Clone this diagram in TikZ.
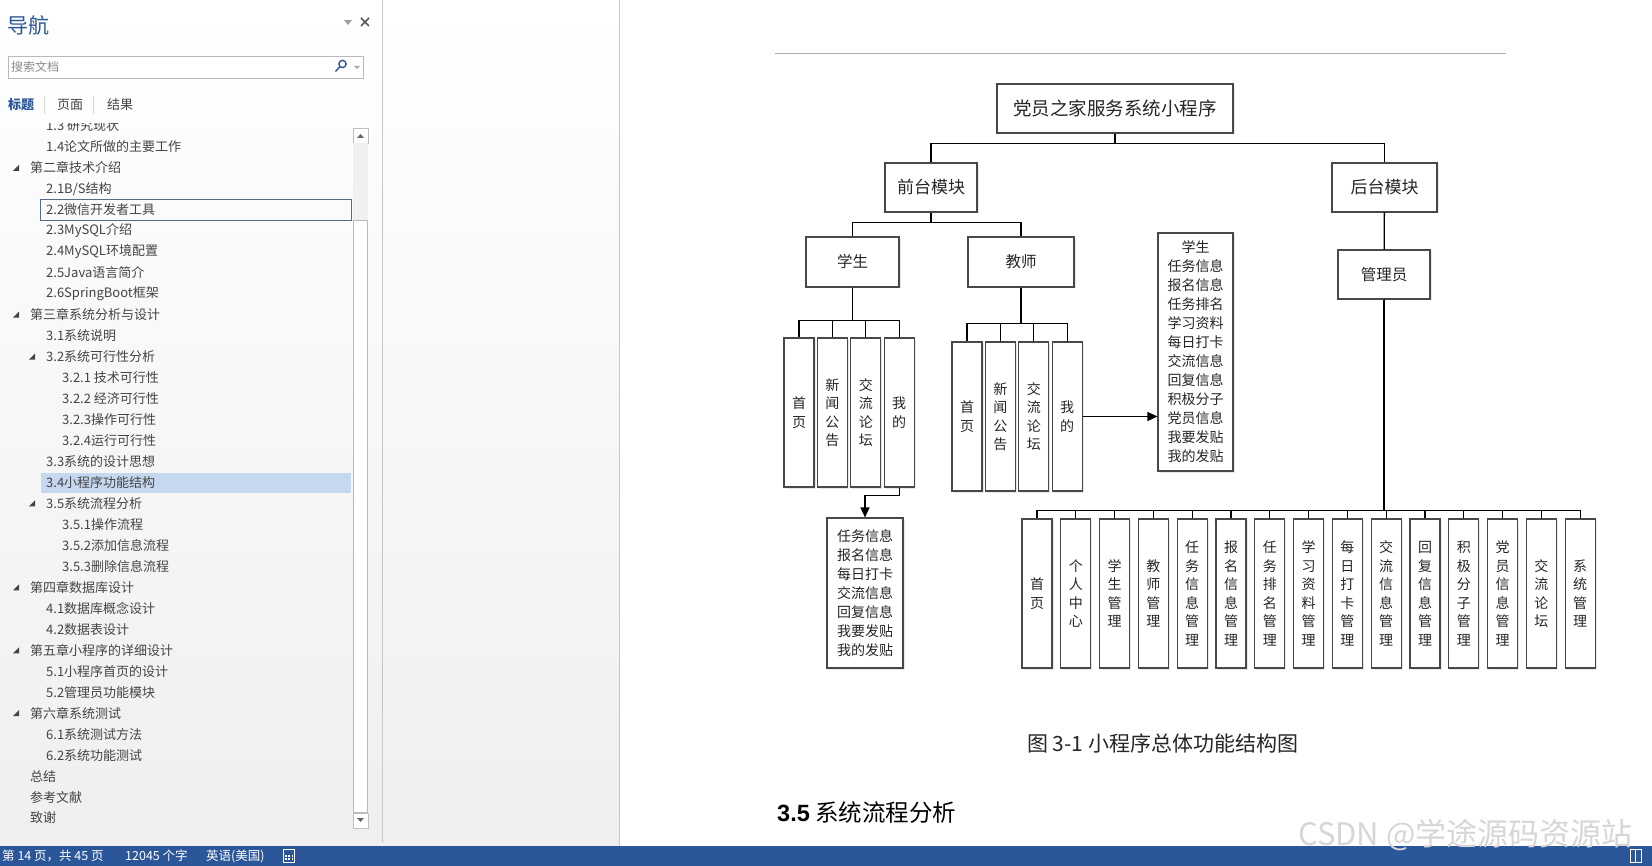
\documentclass[tikz,border=0pt]{standalone}
\usepackage{fontspec}
\setmainfont{Noto Sans CJK SC}
\newfontfamily\headlatin{Liberation Sans}
\usetikzlibrary{arrows.meta,positioning,shadows}
\definecolor{wordblue}{RGB}{43,87,154}
\definecolor{navtext}{RGB}{68,68,68}
\definecolor{navbg}{RGB}{239,239,239}
\definecolor{selfill}{RGB}{197,216,240}
\definecolor{selline}{RGB}{84,110,138}
\definecolor{boxline}{RGB}{72,72,72}
\definecolor{paneline}{RGB}{200,200,200}

\begin{document}
\begin{tikzpicture}[x=1pt,y=-1pt,
  navitem/.style={anchor=west,inner sep=0pt,text=navtext,font=\fontsize{13}{15}\selectfont},
  bartext/.style={anchor=west,inner sep=0pt,text=white,font=\fontsize{12.5}{14}\selectfont},
  orgbox/.style={draw=boxline,line width=1.15pt,fill=white,inner sep=0pt,align=center,text=black!85,
    drop shadow={shadow xshift=1.5pt,shadow yshift=-1.5pt,opacity=0.18},font=\fontsize{17}{20}\selectfont},
  leafbox/.style={orgbox,minimum width=30pt,minimum height=149pt,font=\fontsize{14}{18.5}\selectfont},
  listbox/.style={orgbox,font=\fontsize{14}{19}\selectfont},
  link/.style={line width=1.3pt,draw=black},
  arr/.style={link,-{Triangle[length=10pt,width=9pt]}}
]
\useasboundingbox (0,0) rectangle (1652,866);

% window backgrounds
\shade[top color=white,bottom color=navbg] (0,0) rectangle (382,846);
\shade[top color=white,bottom color=navbg] (383,0) rectangle (619,846);
\fill[white] (620,0) rectangle (1652,846);
\draw[paneline] (382.5,0) -- (382.5,843);
\draw[gray!45] (619.5,0) -- (619.5,846);

% navigation pane head
\node[anchor=west,inner sep=0pt,text=wordblue,font=\fontsize{21}{24}\selectfont] (navtitle) at (7,25) {导航};
\fill[gray!75] (344,20) -- (352,20) -- (348,25) -- cycle;
\draw[gray!70!black,line width=1.6pt] (361,18) -- (369,26) (361,26) -- (369,18);
\node[draw=gray!55,fill=white,minimum width=355pt,minimum height=22pt,inner sep=0pt,anchor=north west] (search) at (8,56) {};
\node[navitem,text=gray!90,font=\fontsize{12}{14}\selectfont] (searchtxt) at (11,67) {搜索文档};
\draw[wordblue,line width=1.4pt] (342.5,64) circle (3.6pt) (339.8,66.8) -- (335.5,71.5);
\fill[gray!70] (354,66) -- (360,66) -- (357,69) -- cycle;

% tabs
\node[navitem,text=wordblue,font=\bfseries\fontsize{13}{15}\selectfont] (tabhead) at (8,105) {标题};
\node[navitem] (tabpage) at (57,105) {页面};
\node[navitem] (tabres) at (107,105) {结果};
\draw[gray!30] (44,96) -- (44,114) (93,96) -- (93,114);

% scrollbar
\draw[gray!50,fill=white] (353,128) rectangle (368,143);
\fill[gray!80!black] (357,138) -- (364,138) -- (360.5,134) -- cycle;
\fill[gray!12] (353,143) rectangle (368,220);
\draw[gray!55,fill=white] (353.5,220) rectangle (367.5,812);
\draw[gray!50,fill=white] (353,813) rectangle (368,828);
\fill[gray!80!black] (357,818) -- (364,818) -- (360.5,822) -- cycle;

% heading list
\fill[selfill] (41,473) rectangle (351,493);
\draw[selline] (40.5,199.5) rectangle (351.5,220.5);
\begin{scope}
\clip (0,124) rectangle (352,846);
\foreach \lv/\tri/\txt [count=\i from 0] in {
  2/0/{1.3 研究现状},2/0/{1.4论文所做的主要工作},1/1/{第二章技术介绍},2/0/{2.1B/S结构},
  2/0/{2.2微信开发者工具},2/0/{2.3MySQL介绍},2/0/{2.4MySQL环境配置},2/0/{2.5Java语言简介},
  2/0/{2.6SpringBoot框架},1/1/{第三章系统分析与设计},2/0/{3.1系统说明},2/1/{3.2系统可行性分析},
  3/0/{3.2.1 技术可行性},3/0/{3.2.2 经济可行性},3/0/{3.2.3操作可行性},3/0/{3.2.4运行可行性},
  2/0/{3.3系统的设计思想},2/0/{3.4小程序功能结构},2/1/{3.5系统流程分析},3/0/{3.5.1操作流程},
  3/0/{3.5.2添加信息流程},3/0/{3.5.3删除信息流程},1/1/{第四章数据库设计},2/0/{4.1数据库概念设计},
  2/0/{4.2数据表设计},1/1/{第五章小程序的详细设计},2/0/{5.1小程序首页的设计},2/0/{5.2管理员功能模块},
  1/1/{第六章系统测试},2/0/{6.1系统测试方法},2/0/{6.2系统功能测试},1/0/{总结},
  1/0/{参考文献},1/0/{致谢}}
{
  \node[navitem] (nav\i) at ({14+16*\lv},{126+20.97*\i}) {\txt};
  \ifnum\tri=1
    \fill[navtext] ({16*\lv-3},{129+20.97*\i}) -- ++(6,0) -- ++(0,-6) -- cycle;
  \fi
}
\end{scope}

% status bar
\fill[wordblue] (0,846) rectangle (1652,866);
\node[bartext] (pageno) at (2,856) {第 14 页，共 45 页};
\node[bartext] (words) at (125,856) {12045 个字};
\node[bartext] (lang) at (206,856) {英语(美国)};
\draw[white,line width=1pt] (283,849.5) rectangle (294,862);
\foreach \u in {0,1,2} \foreach \v in {0,1}
  \fill[white] ({285+3.3*\u},{855+3*\v}) rectangle ++(1.8,1.6);
\draw[white,line width=1pt] (1630,849.5) rectangle (1641,862) (1635.5,849.5) -- (1635.5,862);

% page
\draw[gray!65,line width=1pt] (775,54) -- (1506,54);

\node[orgbox,minimum width=236pt,minimum height=49pt,font=\fontsize{18.5}{22}\selectfont] (root) at (1115,108.5) {党员之家服务系统小程序};
\node[orgbox,minimum width=92pt,minimum height=49pt] (front) at (931,187.5) {前台模块};
\node[orgbox,minimum width=105pt,minimum height=49pt] (back) at (1384.5,187.5) {后台模块};
\node[orgbox,minimum width=93pt,minimum height=50pt,font=\fontsize{15.5}{18}\selectfont] (stu) at (852.5,262) {学生};
\node[orgbox,minimum width=106pt,minimum height=50pt,font=\fontsize{15.5}{18}\selectfont] (tea) at (1021,262) {教师};
\node[orgbox,minimum width=92pt,minimum height=49pt,font=\fontsize{15.5}{18}\selectfont] (adm) at (1384,274.5) {管理员};

\foreach \txt [count=\k from 0] in {{首\\页},{新\\闻\\公\\告},{交\\流\\论\\坛},{我\\的}}
  \node[leafbox] (s\k) at ({799+33.4*\k},412.5) {\txt};
\foreach \txt [count=\k from 0] in {{首\\页},{新\\闻\\公\\告},{交\\流\\论\\坛},{我\\的}}
  \node[leafbox] (t\k) at ({967+33.4*\k},416.5) {\txt};
\foreach \txt [count=\k] in {{首\\页},{个\\人\\中\\心},{学\\生\\管\\理},{教\\师\\管\\理},
    {任\\务\\信\\息\\管\\理},{报\\名\\信\\息\\管\\理},{任\\务\\排\\名\\管\\理},{学\\习\\资\\料\\管\\理},
    {每\\日\\打\\卡\\管\\理},{交\\流\\信\\息\\管\\理},{回\\复\\信\\息\\管\\理},{积\\极\\分\\子\\管\\理},
    {党\\员\\信\\息\\管\\理},{交\\流\\论\\坛},{系\\统\\管\\理}}
  \node[leafbox] (a\k) at ({998.2+38.8*\k},593.5) {\txt};

\node[listbox,minimum width=76pt,minimum height=150pt] (stuinfo) at (865,593) {任务信息\\报名信息\\每日打卡\\交流信息\\回复信息\\我要发贴\\我的发贴};
\node[listbox,minimum width=75pt,minimum height=238pt] (teainfo) at (1195.5,352) {学生\\任务信息\\报名信息\\任务排名\\学习资料\\每日打卡\\交流信息\\回复信息\\积极分子\\党员信息\\我要发贴\\我的发贴};

\draw[link] (root.south) -- ++(0,10) -| (front.north);
\draw[link] (root.south) -- ++(0,10) -| (back.north);
\draw[link] (front.south) -- ++(0,10) -| (stu.north);
\draw[link] (front.south) -- ++(0,10) -| (tea.north);
\foreach \k in {0,...,3} \draw[link] (stu.south) -- ++(0,33) -| (s\k.north);
\foreach \k in {0,...,3} \draw[link] (tea.south) -- ++(0,36) -| (t\k.north);
\draw[link] (back) -- (adm);
\foreach \k in {1,...,15} \draw[link] (adm.south) -- ++(0,211) -| (a\k.north);
\draw[arr] (s3.south) -- ++(0,8) -| (stuinfo.north);
\draw[arr] (t3.east) -- (t3.east -| teainfo.west);

\node[anchor=west,inner sep=0pt,text=black!85,font=\fontsize{21}{24}\selectfont] (caption) at (1027,743) {图 3-1 小程序总体功能结构图};
\node[anchor=west,inner sep=0pt,font=\fontsize{23.5}{26}\selectfont] (nexthead) at (777,813) {{\headlatin\bfseries 3.5} 系统流程分析};

% watermark
\node[anchor=west,inner sep=0pt,text=gray!32,font=\fontsize{31}{34}\selectfont] (mark) at (1298,835) {CSDN @学途源码资源站};
\end{tikzpicture}
\end{document}
